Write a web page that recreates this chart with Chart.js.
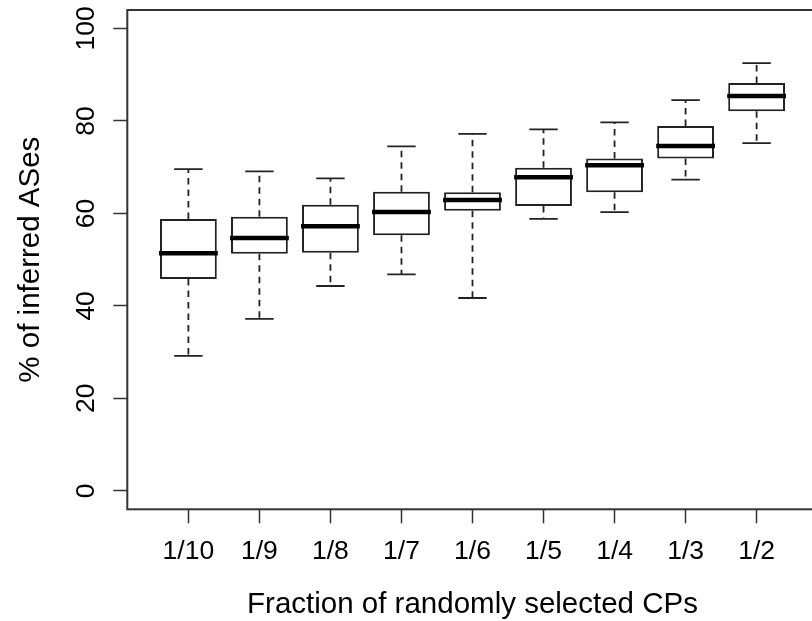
<!DOCTYPE html>
<html>
<head>
<meta charset="utf-8">
<script src="https://cdn.jsdelivr.net/npm/chart.js@4/dist/chart.umd.min.js"></script>
<style>
  html, body { margin: 0; padding: 0; background: #fff; overflow: hidden; }
  #wrap { position: relative; width: 840px; height: 621px; }
</style>
</head>
<body>
<div id="wrap"><canvas id="boxChart"></canvas></div>
<script>
// Datos (boxplot)
const categories = ["1/10", "1/9", "1/8", "1/7", "1/6", "1/5", "1/4", "1/3", "1/2"];
const whiskerLow = [29.2, 37.2, 44.3, 46.8, 41.7, 58.8, 60.3, 67.3, 75.2];
const q1 = [45.8, 51.3, 51.5, 55.3, 60.6, 61.6, 64.6, 71.9, 82.1];
const median = [51.4, 54.7, 57.2, 60.3, 62.9, 67.8, 70.4, 74.6, 85.4];
const q3 = [58.8, 59.3, 61.9, 64.7, 64.6, 69.9, 71.9, 78.9, 88.2];
const whiskerHigh = [69.6, 69.1, 67.6, 74.5, 77.2, 78.2, 79.7, 84.5, 92.5];
const yTicks = [0, 20, 40, 60, 80, 100];

const FONT = "'Liberation Sans', Arial, Helvetica, sans-serif";
const INK = "#222";

// bigotes, topes, mediana y marco
const boxExtras = {
    id: "boxExtras",
    afterDatasetsDraw(chart) {
        const ctx = chart.ctx;
        const xs = chart.scales.x;
        const ys = chart.scales.y;
        const bars = chart.getDatasetMeta(0).data;
        ctx.save();
        categories.forEach(function (c, i) {
            const x = xs.getPixelForValue(i + 1);
            const half = bars[i].width / 2;
            const cap = half * 0.5;
            ctx.strokeStyle = INK;
            ctx.lineWidth = 1.8;
            // bigotes discontinuos
            ctx.setLineDash([6.5, 5]);
            ctx.beginPath();
            ctx.moveTo(x, ys.getPixelForValue(q3[i]));
            ctx.lineTo(x, ys.getPixelForValue(whiskerHigh[i]));
            ctx.moveTo(x, ys.getPixelForValue(q1[i]));
            ctx.lineTo(x, ys.getPixelForValue(whiskerLow[i]));
            ctx.stroke();
            ctx.setLineDash([]);
            // topes
            ctx.beginPath();
            ctx.moveTo(x - cap, ys.getPixelForValue(whiskerHigh[i]));
            ctx.lineTo(x + cap, ys.getPixelForValue(whiskerHigh[i]));
            ctx.moveTo(x - cap, ys.getPixelForValue(whiskerLow[i]));
            ctx.lineTo(x + cap, ys.getPixelForValue(whiskerLow[i]));
            ctx.stroke();
            // mediana
            ctx.strokeStyle = "#000";
            ctx.lineWidth = 4.5;
            ctx.beginPath();
            ctx.moveTo(x - half - 1, ys.getPixelForValue(median[i]));
            ctx.lineTo(x + half + 1, ys.getPixelForValue(median[i]));
            ctx.stroke();
        });
        // marco del área
        const a = chart.chartArea;
        ctx.strokeStyle = "#333";
        ctx.lineWidth = 2;
        ctx.strokeRect(a.left, a.top, a.right - a.left, a.bottom - a.top);
        ctx.restore();
    },
};

document.addEventListener("DOMContentLoaded", function () {
    const ctx = document.getElementById("boxChart").getContext("2d");
    new Chart(ctx, {
        type: "bar",
        data: {
            datasets: [
                {
                    data: categories.map(function (c, i) {
                        return { x: i + 1, y: [q1[i], q3[i]] };
                    }),
                    backgroundColor: "#fff",
                    borderColor: INK,
                    borderWidth: 2,
                    borderSkipped: false,
                    barPercentage: 1,
                    categoryPercentage: 0.8,
                },
            ],
        },
        options: {
            responsive: true,
            maintainAspectRatio: false,
            animation: false,
            events: [],
            layout: { padding: { top: 10, right: 22.3, left: 0, bottom: 0 } },
            plugins: {
                legend: { display: false },
                tooltip: { enabled: false },
            },
            scales: {
                x: {
                    type: "linear",
                    offset: false,
                    min: 0.14,
                    max: 9.86,
                    afterBuildTicks: function (scale) {
                        scale.ticks = categories.map(function (c, i) {
                            return { value: i + 1 };
                        });
                    },
                    afterFit: function (scale) {
                        scale.height = 111.7;
                        scale.paddingLeft = 0;
                        scale.paddingRight = 0;
                    },
                    border: { display: false },
                    grid: {
                        offset: false,
                        drawOnChartArea: false,
                        tickLength: 14,
                        tickColor: "#333",
                        tickWidth: 1.5,
                    },
                    ticks: {
                        padding: 12,
                        color: "#000",
                        maxRotation: 0,
                        autoSkip: false,
                        font: { family: FONT, size: 26.5 },
                        callback: function (v) {
                            return categories[v - 1];
                        },
                    },
                    title: {
                        display: true,
                        text: "Fraction of randomly selected CPs",
                        color: "#000",
                        font: { family: FONT, size: 29.5, lineHeight: 1 },
                        padding: { top: 0, bottom: 1 },
                    },
                },
                y: {
                    min: -4,
                    max: 104,
                    afterBuildTicks: function (scale) {
                        scale.ticks = yTicks.map(function (v) {
                            return { value: v };
                        });
                    },
                    afterFit: function (scale) {
                        scale.width = 127.3;
                        scale.paddingTop = 0;
                        scale.paddingBottom = 0;
                    },
                    border: { display: false },
                    grid: {
                        drawOnChartArea: false,
                        tickLength: 14,
                        tickColor: "#333",
                        tickWidth: 1.5,
                    },
                    ticks: {
                        padding: 4.5,
                        color: "#000",
                        minRotation: 90,
                        maxRotation: 90,
                        crossAlign: "center",
                        font: { family: FONT, size: 26.5 },
                    },
                    title: {
                        display: true,
                        text: "% of inferred ASes",
                        color: "#000",
                        font: { family: FONT, size: 29.5, lineHeight: 1 },
                        padding: { top: 16, bottom: 0 },
                    },
                },
            },
        },
        plugins: [boxExtras],
    });
});
</script>
</body>
</html>
